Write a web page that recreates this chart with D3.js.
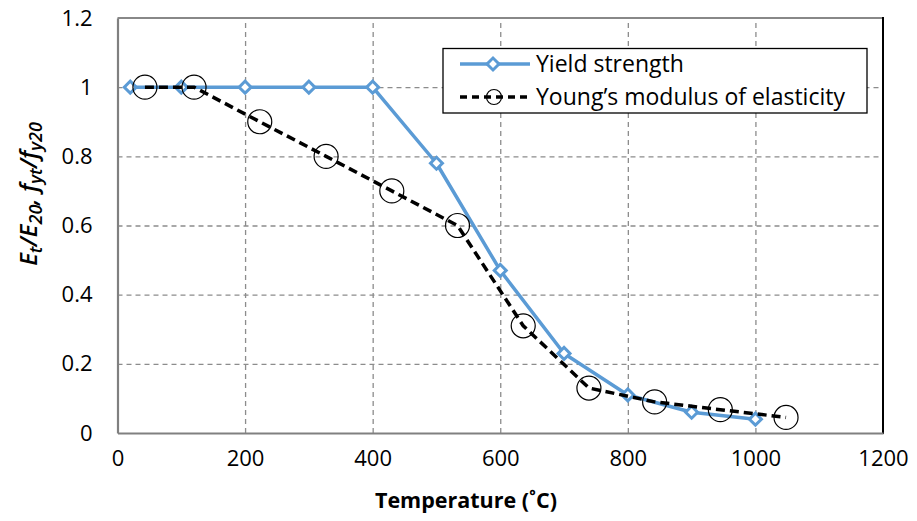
<!DOCTYPE html>
<html>
<head>
<meta charset="utf-8">
<script src="https://cdn.jsdelivr.net/npm/d3@7"></script>
<style>
  body { margin: 0; background: #fff; }
  text { font-family: "Open Sans", Lato, sans-serif; fill: #000; }
</style>
</head>
<body>
<script>
(function () {
  'use strict';

  // yield strength reduction factors
  const yieldTemp = [20, 100, 200, 300, 400, 500, 600, 700, 800, 900, 1000];
  const yieldVals = [1, 1, 1, 1, 1, 0.78, 0.47, 0.23, 0.11, 0.06, 0.04];

  // Young's modulus reduction factors (plotted offset as in the picture)
  const modTemp = [43, 120, 223, 327, 430, 533, 636, 739, 842, 945, 1048];
  const modVals = [1, 1, 0.9, 0.8, 0.7, 0.6, 0.31, 0.13, 0.09, 0.0675, 0.045];

  const xTicks = [0, 200, 400, 600, 800, 1000, 1200];
  const yTicks = [0, 0.2, 0.4, 0.6, 0.8, 1, 1.2];

  const seriesNames = ['Yield strength', 'Young\u2019s modulus of elasticity'];

  const W = 917, H = 521;
  const left = 117.5, right = 883, top = 18, bottom = 433;

  const svg = d3.select('body').append('svg')
    .attr('width', W)
    .attr('height', H);

  const x = d3.scaleLinear().domain([0, 1200]).range([left, right]);
  const y = d3.scaleLinear().domain([0, 1.2]).range([bottom, top]);

  // gridlines
  svg.append('g')
    .attr('transform', `translate(0,${bottom})`)
    .call(d3.axisBottom(x).tickValues(xTicks.slice(1, -1)).tickSize(-(bottom - top)).tickFormat(''))
    .call(g => g.select('.domain').remove())
    .call(g => g.selectAll('line').attr('stroke', '#8c8c8c').attr('stroke-width', 1.3).attr('stroke-dasharray', '5,4'));

  svg.append('g')
    .attr('transform', `translate(${left},0)`)
    .call(d3.axisLeft(y).tickValues(yTicks.slice(1, -1)).tickSize(-(right - left)).tickFormat(''))
    .call(g => g.select('.domain').remove())
    .call(g => g.selectAll('line').attr('stroke', '#8c8c8c').attr('stroke-width', 1.3).attr('stroke-dasharray', '5,4'));

  // frame
  svg.append('line').attr('x1', left).attr('x2', right).attr('y1', top).attr('y2', top)
    .attr('stroke', '#888').attr('stroke-width', 2);
  svg.append('line').attr('x1', right).attr('x2', right).attr('y1', top - 1).attr('y2', bottom + 1)
    .attr('stroke', '#000').attr('stroke-width', 2);

  // axes
  const xAxis = svg.append('g')
    .attr('transform', `translate(0,${bottom})`)
    .call(d3.axisBottom(x).tickValues(xTicks).tickSize(0).tickPadding(17).tickFormat(d3.format('d')));
  xAxis.select('.domain').attr('stroke', '#808080').attr('stroke-width', 2.2);
  xAxis.selectAll('text').style('font-size', '22px').style('font-family', '"Open Sans", sans-serif');

  const yAxis = svg.append('g')
    .attr('transform', `translate(${left},0)`)
    .call(d3.axisLeft(y).tickValues(yTicks).tickSize(0).tickPadding(25).tickFormat(d => d3.format('')(+d.toFixed(1))));
  yAxis.select('.domain').attr('stroke', '#808080').attr('stroke-width', 2.2);
  yAxis.selectAll('text').style('font-size', '22px').style('font-family', '"Open Sans", sans-serif');

  const blue = '#5b9bd5';

  const yieldData = yieldTemp.map((t, i) => [t, yieldVals[i]]);
  const modData = modTemp.map((t, i) => [t, modVals[i]]);

  const line = d3.line().x(d => x(d[0])).y(d => y(d[1]));

  // yield strength
  svg.append('path')
    .attr('d', line(yieldData))
    .attr('fill', 'none')
    .attr('stroke', blue)
    .attr('stroke-width', 3.5)
    .attr('stroke-linejoin', 'round');

  const diamond = d3.symbol().type(d3.symbolSquare).size(72);

  svg.append('g').selectAll('path')
    .data(yieldData)
    .enter()
    .append('path')
    .attr('d', diamond)
    .attr('transform', d => `translate(${x(d[0])},${y(d[1])}) rotate(45)`)
    .attr('fill', '#fff')
    .attr('stroke', blue)
    .attr('stroke-width', 3);

  // Young's modulus
  svg.append('path')
    .attr('d', line(modData))
    .attr('fill', 'none')
    .attr('stroke', '#000')
    .attr('stroke-width', 3.5)
    .attr('stroke-dasharray', '9,5');

  svg.append('g').selectAll('circle')
    .data(modData)
    .enter()
    .append('circle')
    .attr('cx', d => x(d[0]))
    .attr('cy', d => y(d[1]))
    .attr('r', 12)
    .attr('fill', 'none')
    .attr('stroke', '#000')
    .attr('stroke-width', 1.2);

  // legend
  const lg = svg.append('g');
  lg.append('rect')
    .attr('x', 443).attr('y', 48.5).attr('width', 424).attr('height', 64.5)
    .attr('fill', '#fff').attr('stroke', '#000').attr('stroke-width', 1.3);

  lg.append('line').attr('x1', 460).attr('x2', 530).attr('y1', 64).attr('y2', 64)
    .attr('stroke', blue).attr('stroke-width', 3.5);
  lg.append('path').attr('d', diamond)
    .attr('transform', 'translate(493,64) rotate(45)')
    .attr('fill', '#fff').attr('stroke', blue).attr('stroke-width', 3);

  lg.append('line').attr('x1', 460).attr('x2', 530).attr('y1', 97).attr('y2', 97)
    .attr('stroke', '#000').attr('stroke-width', 3.5).attr('stroke-dasharray', '7,5');
  lg.append('circle').attr('cx', 494).attr('cy', 97).attr('r', 7.5)
    .attr('fill', 'none').attr('stroke', '#000').attr('stroke-width', 1.2);

  lg.selectAll('text.lab')
    .data(seriesNames)
    .enter()
    .append('text')
    .attr('class', 'lab')
    .attr('x', 536)
    .attr('y', (d, i) => 72 + i * 33)
    .style('font-size', '23px')
    .text(d => d);

  // axis titles
  svg.append('text')
    .attr('x', 466)
    .attr('y', 508)
    .attr('text-anchor', 'middle')
    .style('font-size', '21.5px')
    .style('font-weight', 'bold')
    .text('Temperature (\u02DAC)');

  const yt = svg.append('text')
    .attr('transform', 'translate(37,194) rotate(-90)')
    .attr('text-anchor', 'middle')
    .style('font-size', '24px')
    .style('font-style', 'italic')
    .style('font-weight', '600');
  const parts = [
    ['E', 0], ['t', 1], ['/E', 0], ['20', 1], [', f', 0], ['yt', 1], ['/f', 0], ['y20', 1]
  ];
  parts.forEach(p => {
    yt.append('tspan')
      .attr('dy', p[1] ? 5 : -5)
      .style('font-size', p[1] ? '18px' : '24px')
      .text(p[0]);
  });
  yt.select('tspan').attr('dy', 0);
})();
</script>
</body>
</html>
